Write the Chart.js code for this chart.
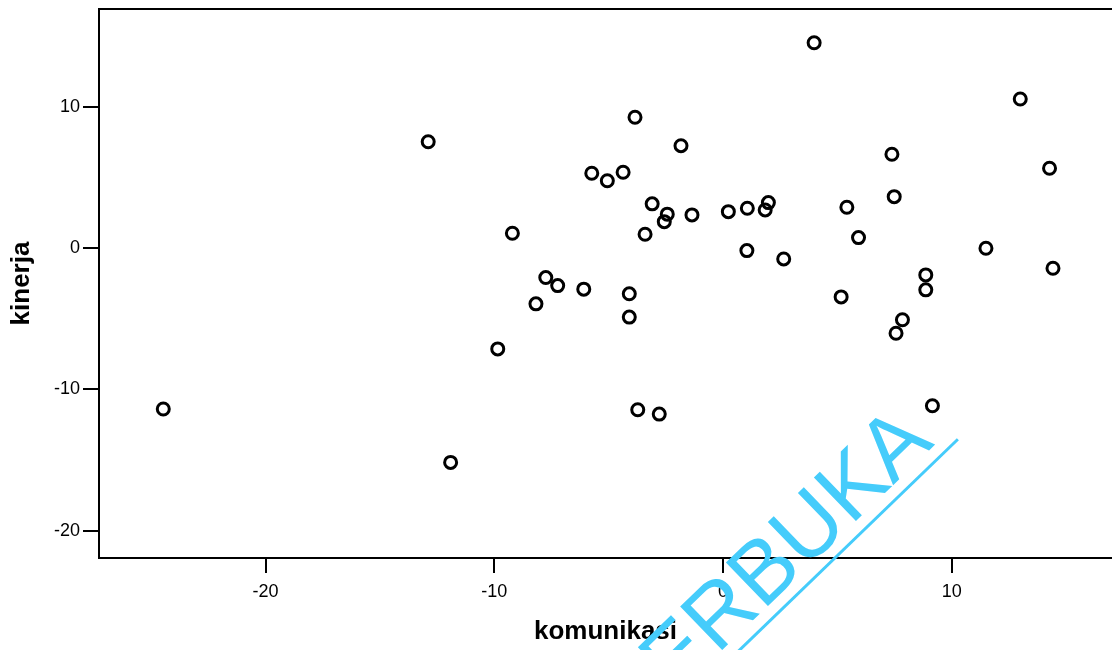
<!DOCTYPE html>
<html>
<head>
<meta charset="utf-8">
<script src="https://cdn.jsdelivr.net/npm/chart.js@4/dist/chart.umd.min.js"></script>
<style>
  html, body { margin: 0; padding: 0; background: #fff; overflow: hidden; }
  #wrap { width: 1112px; height: 650px; }
  canvas { display: block; }
</style>
</head>
<body>
<div id="wrap"><canvas id="myChart" width="1112" height="650"></canvas></div>
<script>
// komunikasi (x) vs kinerja (y)
var komunikasi = [-24.47, -12.89, -11.91, -9.85, -9.21, -8.18, -7.75, -7.23, -6.09, -5.74,
    -5.06, -4.37, -4.10, -4.10, -3.85, -3.73, -3.41, -3.10, -2.79, -2.57,
    -2.44, -1.84, -1.36, 0.23, 1.04, 1.06, 1.84, 1.98, 2.65, 3.98,
    5.16, 5.41, 5.92, 7.38, 7.48, 7.56, 7.84, 8.86, 8.86, 9.15,
    11.49, 12.99, 14.27, 14.42];
var kinerja = [-11.39, 7.54, -15.17, -7.13, 1.06, -3.94, -2.08, -2.65, -2.90, 5.31,
    4.78, 5.38, -3.23, -4.88, 9.27, -11.44, 0.99, 3.14, -11.75, 1.88,
    2.41, 7.26, 2.36, 2.59, -0.17, 2.83, 2.71, 3.23, -0.76, 14.55,
    -3.45, 2.90, 0.75, 6.65, 3.65, -6.02, -5.07, -1.89, -2.95, -11.16,
    0.00, 10.57, 5.66, -1.42];

var xTicks = [-20, -10, 0, 10];
var yTicks = [-20, -10, 0, 10];
var xRange = [-27.28, 17.0];
var yRange = [-21.94, 16.94];

var points = [];
for (let i = 0; i < komunikasi.length; i++) {
    points.push({ x: komunikasi[i], y: kinerja[i] });
}

var fontFam = "'Liberation Sans', Arial, Helvetica, sans-serif";

// no extra label padding, the plot box is fixed
function noPad(scale) {
    scale.paddingTop = 0;
    scale.paddingBottom = 0;
    scale.paddingLeft = 0;
    scale.paddingRight = 0;
}

// top frame line + the watermark
var extras = {
    id: 'extras',
    afterDraw(chart) {
        var ctx = chart.ctx;
        var a = chart.chartArea;
        ctx.save();
        ctx.strokeStyle = '#000';
        ctx.lineWidth = 2;
        ctx.beginPath();
        ctx.moveTo(a.left, a.top);
        ctx.lineTo(a.right, a.top);
        ctx.stroke();
        ctx.restore();

        ctx.save();
        ctx.translate(955, 442);
        ctx.rotate(-44 * Math.PI / 180);
        ctx.fillStyle = '#45CCFB';
        ctx.strokeStyle = '#45CCFB';
        ctx.font = "88px " + fontFam;
        ctx.textAlign = 'right';
        ctx.textBaseline = 'alphabetic';
        ctx.fillText('TERBUKA', -16, -12);
        var w = ctx.measureText('TERBUKA').width;
        ctx.lineWidth = 3;
        ctx.beginPath();
        ctx.moveTo(-w, 0);
        ctx.lineTo(4, 0);
        ctx.stroke();
        ctx.restore();
    }
};

var ctx = document.getElementById('myChart').getContext('2d');
var chart = new Chart(ctx, {
    type: 'scatter',
    data: {
        datasets: [{
            label: 'kinerja',
            data: points,
            pointStyle: 'circle',
            pointRadius: 6,
            pointHoverRadius: 6,
            borderWidth: 3,
            borderColor: '#000',
            backgroundColor: 'rgba(0,0,0,0)'
        }]
    },
    options: {
        responsive: false,
        animation: false,
        layout: { autoPadding: false, padding: { top: 9, right: 0, left: 0, bottom: 0 } },
        plugins: {
            legend: { display: false },
            tooltip: { enabled: false }
        },
        scales: {
            x: {
                type: 'linear',
                min: xRange[0],
                max: xRange[1],
                afterBuildTicks: (scale) => { scale.ticks = xTicks.map(v => ({ value: v })) },
                afterFit: (scale) => { scale.height = 92; noPad(scale) },
                grid: { drawOnChartArea: false, drawTicks: true, tickLength: 15, color: '#000', lineWidth: 2 },
                border: { display: true, color: '#000', width: 2 },
                ticks: { color: '#000', font: { family: fontFam, size: 18 }, padding: 8, maxRotation: 0 },
                title: {
                    display: true,
                    text: 'komunikasi',
                    color: '#000',
                    font: { family: fontFam, size: 26, weight: 'bold' },
                    padding: { top: 0, bottom: 3 }
                }
            },
            y: {
                type: 'linear',
                min: yRange[0],
                max: yRange[1],
                afterBuildTicks: (scale) => { scale.ticks = yTicks.map(v => ({ value: v })) },
                afterFit: (scale) => { scale.width = 99; noPad(scale) },
                grid: { drawOnChartArea: false, drawTicks: true, tickLength: 16, color: '#000', lineWidth: 2 },
                border: { display: true, color: '#000', width: 2 },
                ticks: { color: '#000', font: { family: fontFam, size: 18 }, padding: 3 },
                title: {
                    display: true,
                    text: 'kinerja',
                    color: '#000',
                    font: { family: fontFam, size: 26, weight: 'bold' },
                    padding: { top: 6, bottom: 0 }
                }
            }
        }
    },
    plugins: [extras]
});
</script>
</body>
</html>
